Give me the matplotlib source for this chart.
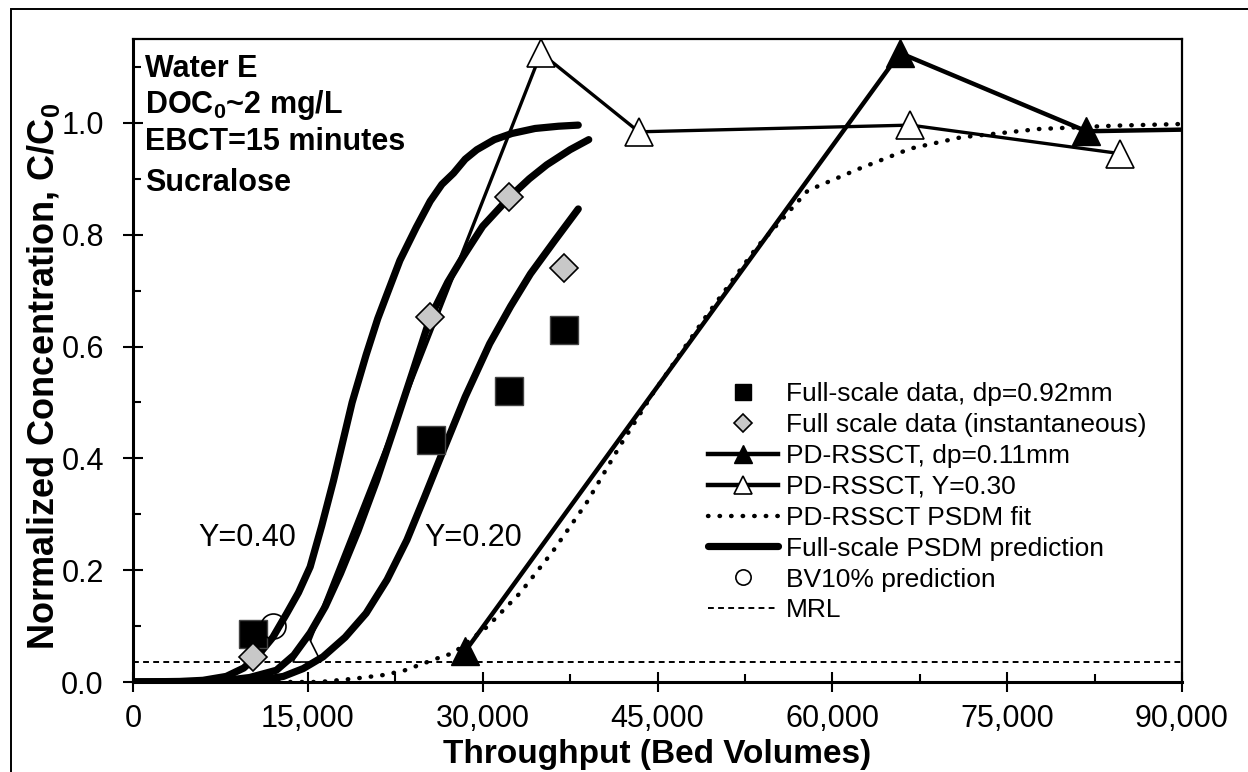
import matplotlib
matplotlib.use("Agg")
import matplotlib.pyplot as plt
from matplotlib.patches import Rectangle
from matplotlib.ticker import MultipleLocator, FuncFormatter

plt.rcParams['font.family'] = ['Liberation Sans', 'DejaVu Sans']
plt.rcParams['mathtext.default'] = 'regular'
NARROW = ['Liberation Sans Narrow', 'Liberation Sans', 'DejaVu Sans']

# full-scale column data
fs_bv = [10300, 25600, 32300, 37000]
fs_c = [0.086, 0.432, 0.520, 0.630]
inst_bv = [10300, 25500, 32300, 37000]
inst_c = [0.045, 0.652, 0.867, 0.740]

# PD-RSSCT runs
rssct_bv = [28500, 65800, 81800, 96000]
rssct_c = [0.055, 1.125, 0.985, 0.990]
rssct30_bv = [14900, 35000, 43400, 66700, 84700]
rssct30_c = [0.060, 1.125, 0.984, 0.996, 0.945]

# PSDM fit of the RSSCT
fit_bv = [11500, 16000, 19000, 21500, 23200, 26200, 27500, 30400, 33200, 36000, 38900,
          41800, 44600, 49200, 53500, 57900, 62300, 66700, 71000, 77700, 84200, 90000]
fit_c = [0.0, 0.0, 0.006, 0.0125, 0.02, 0.043, 0.052, 0.099, 0.159, 0.233, 0.32,
         0.423, 0.516, 0.655, 0.777, 0.879, 0.918, 0.954, 0.974, 0.989, 0.995, 0.998]

# full-scale PSDM predictions (Y=0.40, 0.30, 0.20)
y40_bv = [0, 4000, 6000, 8000, 9500, 10900, 12000, 13200, 14200, 15200, 16200, 17200, 18000,
          18800, 20000, 21000, 21800, 22900, 24300, 25500, 26500, 27500, 28500, 29500, 31000,
          32500, 34500, 36500, 38200]
y40_c = [0, 0.001, 0.003, 0.01, 0.025, 0.052, 0.08, 0.123, 0.16, 0.206, 0.28, 0.36, 0.43,
         0.50, 0.585, 0.65, 0.694, 0.754, 0.813, 0.86, 0.89, 0.91, 0.935, 0.952, 0.97,
         0.981, 0.99, 0.994, 0.996]
y30_bv = [0, 5000, 8000, 10000, 12300, 13800, 15200, 16500, 17800, 19300, 20900, 22500, 24000,
          25500, 27000, 28300, 30000, 32300, 34000, 35500, 37500, 39100]
y30_c = [0, 0.0, 0.003, 0.008, 0.021, 0.048, 0.088, 0.135, 0.194, 0.27, 0.36, 0.46, 0.555,
         0.652, 0.715, 0.76, 0.815, 0.867, 0.9, 0.925, 0.952, 0.97]
y20_bv = [0, 6000, 9000, 11000, 12900, 14600, 16300, 18200, 20000, 21800, 23500, 25000, 26600,
          28500, 30600, 32400, 34100, 36200, 38200]
y20_c = [0, 0, 0.001, 0.004, 0.01, 0.024, 0.045, 0.08, 0.123, 0.183, 0.254, 0.33, 0.413,
         0.51, 0.605, 0.672, 0.73, 0.79, 0.846]

bv10_bv = [12000]
bv10_c = [0.10]
mrl = 0.035

info_lines = ['Water E', 'DOC$_0$~2 mg/L', 'EBCT=15 minutes', 'Sucralose']
curve_labels = ['Y=0.40', 'Y=0.20']
curve_label_pos = [(9800, 0.257), (29200, 0.257)]

W, H = 1248, 772
fig = plt.figure(figsize=(W / 100, H / 100), dpi=100)
ax = fig.add_axes([133 / W, (H - 682) / H, 1049 / W, 643 / H])

# outer frame, cut at right and bottom like the original
fig.add_artist(Rectangle((11 / W, -0.2), 2, 1.2 - 9 / H, transform=fig.transFigure,
                         fill=False, lw=1.4, ec='black'))

ax.axhline(mrl, color='black', lw=1.4, ls=(0, (3, 2.2)), zorder=1)
ax.plot(rssct_bv, rssct_c, color='black', lw=3.2, marker='^', ms=20, mfc='black',
        mec='black', zorder=3)
ax.plot(rssct30_bv, rssct30_c, color='black', lw=2.4, marker='^', ms=20, mfc='white',
        mec='black', mew=1.2, zorder=3)
ax.plot(fit_bv, fit_c, color='black', lw=3.2, ls=(0, (0.1, 2.5)), dash_capstyle='round',
        zorder=4)
for bv, c in [(y40_bv, y40_c), (y30_bv, y30_c), (y20_bv, y20_c)]:
    ax.plot(bv, c, color='black', lw=5.2, solid_capstyle='round', solid_joinstyle='round',
            zorder=5)
ax.plot(fs_bv, fs_c, ls='none', marker='s', ms=20, mfc='black', mec='#444444', mew=1,
        zorder=6)
ax.plot(inst_bv, inst_c, ls='none', marker='D', ms=14, mfc='#c8c8c8', mec='black',
        mew=1.2, zorder=6)
ax.plot(bv10_bv, bv10_c, ls='none', marker='o', ms=18, mfc='none', mec='black', mew=1.2,
        zorder=7)

for lab, (x, y) in zip(curve_labels, curve_label_pos):
    ax.text(x, y, lab, fontsize=22, ha='center', va='center')

for txt, yb in zip(info_lines, [0.9414, 0.8845, 0.8274, 0.7636]):
    ax.text(0.0114, yb, txt, transform=ax.transAxes, fontsize=22, fontweight='bold',
            va='baseline', ha='left')

ax.set_xlim(0, 90000)
ax.set_ylim(0, 1.15)
ax.xaxis.set_major_locator(MultipleLocator(15000))
ax.xaxis.set_minor_locator(MultipleLocator(7500))
ax.yaxis.set_major_locator(MultipleLocator(0.2))
ax.yaxis.set_minor_locator(MultipleLocator(0.1))
ax.xaxis.set_major_formatter(FuncFormatter(lambda v, p: f"{int(round(v)):,}"))
ax.yaxis.set_major_formatter(FuncFormatter(lambda v, p: f"{v:.1f}"))
ax.tick_params(which='major', direction='inout', length=14, width=1.5, labelsize=22)
ax.tick_params(which='minor', direction='in', length=6, width=1.5)
ax.tick_params(axis='x', which='major', pad=9)
ax.tick_params(axis='y', which='major', pad=14)
ax.tick_params(top=False, right=False, which='both')
for s in ['left', 'bottom']:
    ax.spines[s].set_linewidth(2.2)
for s in ['top', 'right']:
    ax.spines[s].set_linewidth(1.6)

ax.set_xlabel('Throughput (Bed Volumes)', family=NARROW, fontweight='bold', fontsize=24)
ax.set_ylabel('Normalized Concentration, C/C$_0$', family=NARROW, fontweight='bold',
              fontsize=26)
ax.xaxis.set_label_coords(0.5, -0.088)
ax.yaxis.set_label_coords(-0.068, 0.476)

# legend entries
h_sq, = ax.plot([], [], ls='none', marker='s', ms=12, mfc='black', mec='black')
h_di, = ax.plot([], [], ls='none', marker='D', ms=9, mfc='#c8c8c8', mec='black', mew=1.2)
h_ft, = ax.plot([], [], color='black', lw=3.2, marker='^', ms=13, mfc='black', mec='black')
h_ot, = ax.plot([], [], color='black', lw=3.2, marker='^', ms=13, mfc='white', mec='black',
                mew=1.2)
h_fit, = ax.plot([], [], color='black', lw=3.2, ls=(0, (0.1, 2.5)), dash_capstyle='round')
h_ps, = ax.plot([], [], color='black', lw=5.2, solid_capstyle='round')
h_bv, = ax.plot([], [], ls='none', marker='o', ms=11, mfc='none', mec='black', mew=1.2)
h_mrl, = ax.plot([], [], color='black', lw=1.4, ls=(0, (3, 2.2)))
leg = ax.legend([h_sq, h_di, h_ft, h_ot, h_fit, h_ps, h_bv, h_mrl],
                ['Full-scale data, dp=0.92mm', 'Full scale data (instantaneous)',
                 'PD-RSSCT, dp=0.11mm', 'PD-RSSCT, Y=0.30', 'PD-RSSCT PSDM fit',
                 'Full-scale PSDM prediction', 'BV10% prediction', 'MRL'],
                loc='upper left', bbox_to_anchor=(0.548, 0.466), frameon=False,
                fontsize=19, handlelength=2.65, handletextpad=0.3, labelspacing=0.26,
                borderpad=0, borderaxespad=0, numpoints=1)

fig.savefig('out.png', dpi=100)
